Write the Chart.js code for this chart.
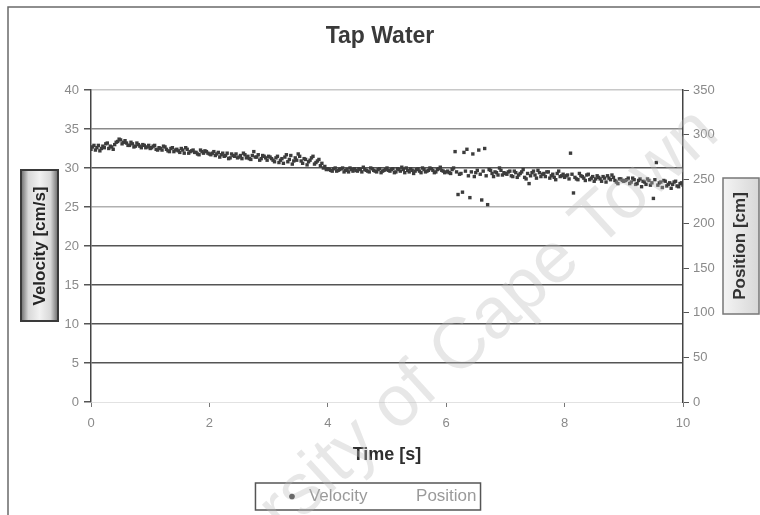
<!DOCTYPE html>
<html>
<head>
<meta charset="utf-8">
<script src="https://cdn.jsdelivr.net/npm/chart.js@4/dist/chart.umd.min.js"></script>
<style>
  html, body { margin: 0; padding: 0; background: #fff; }
  #wrap { width: 760px; height: 515px; }
</style>
</head>
<body>
<div id="wrap"><canvas id="tapChart" width="760" height="515"></canvas></div>
<script>
// sample times [s], first pass (every 0.05 s)
const timeA = [
  0.00, 0.05, 0.10, 0.15, 0.20, 0.25, 0.30, 0.35, 0.40, 0.45, 0.50, 0.55, 0.60, 0.65, 0.70, 0.75, 0.80, 0.85, 0.90, 0.95,
  1.00, 1.05, 1.10, 1.15, 1.20, 1.25, 1.30, 1.35, 1.40, 1.45, 1.50, 1.55, 1.60, 1.65, 1.70, 1.75, 1.80, 1.85, 1.90, 1.95,
  2.00, 2.05, 2.10, 2.15, 2.20, 2.25, 2.30, 2.35, 2.40, 2.45, 2.50, 2.55, 2.60, 2.65, 2.70, 2.75, 2.80, 2.85, 2.90, 2.95,
  3.00, 3.05, 3.10, 3.15, 3.20, 3.25, 3.30, 3.35, 3.40, 3.45, 3.50, 3.55, 3.60, 3.65, 3.70, 3.75, 3.80, 3.85, 3.90, 3.95,
  4.00, 4.05, 4.10, 4.15, 4.20, 4.25, 4.30, 4.35, 4.40, 4.45, 4.50, 4.55, 4.60, 4.65, 4.70, 4.75, 4.80, 4.85, 4.90, 4.95,
  5.00, 5.05, 5.10, 5.15, 5.20, 5.25, 5.30, 5.35, 5.40, 5.45, 5.50, 5.55, 5.60, 5.65, 5.70, 5.75, 5.80, 5.85, 5.90, 5.95,
  6.00, 6.05, 6.10, 6.15, 6.20, 6.25, 6.30, 6.35, 6.40, 6.45, 6.50, 6.55, 6.60, 6.65, 6.70, 6.75, 6.80, 6.85, 6.90, 6.95,
  7.00, 7.05, 7.10, 7.15, 7.20, 7.25, 7.30, 7.35, 7.40, 7.45, 7.50, 7.55, 7.60, 7.65, 7.70, 7.75, 7.80, 7.85, 7.90, 7.95,
  8.00, 8.05, 8.10, 8.15, 8.20, 8.25, 8.30, 8.35, 8.40, 8.45, 8.50, 8.55, 8.60, 8.65, 8.70, 8.75, 8.80, 8.85, 8.90, 8.95,
  9.00, 9.05, 9.10, 9.15, 9.20, 9.25, 9.30, 9.35, 9.40, 9.45, 9.50, 9.55, 9.60, 9.65, 9.70, 9.75, 9.80, 9.85, 9.90, 9.95,
  10.00
];

// velocity [cm/s] at timeA
const velocityA = [
  32.4, 32.9, 32.6, 32.2, 32.8, 33.1, 32.5, 32.7, 33.0, 33.4, 33.6, 33.3, 33.2, 32.9, 33.1, 32.8, 33.0, 32.6, 32.9, 32.7,
  32.5, 32.8, 32.4, 32.6, 32.3, 32.7, 32.2, 32.5, 32.1, 32.4, 32.0, 32.3, 32.6, 31.9, 32.2, 32.0, 31.8, 32.3, 31.9, 32.1,
  31.8, 31.9, 31.6, 32.0, 31.7, 31.5, 31.9, 31.3, 31.6, 31.8, 31.4, 31.2, 31.7, 31.5, 31.1, 32.1, 31.4, 31.0, 31.6, 31.3,
  31.5, 31.2, 30.8, 31.5, 31.0, 30.6, 31.7, 31.1, 30.5, 31.3, 31.8, 30.9, 31.2, 30.4, 31.0, 31.5, 30.7, 31.1, 30.6, 30.2,
  29.9, 29.7, 29.9, 29.6, 29.8, 30.0, 29.7, 29.5, 29.8, 29.9, 29.6, 29.8, 30.1, 29.7, 29.5, 29.9, 29.6, 29.8, 29.4, 29.7,
  30.0, 29.6, 29.9, 29.5, 29.8, 30.1, 29.4, 29.7, 29.9, 29.3, 29.8, 29.6, 30.0, 29.5, 29.7, 29.9, 29.4, 29.8, 30.1, 29.6,
  29.5, 29.4, 29.8, 32.1, 26.6, 29.3, 32.0, 32.4, 26.2, 31.8, 29.4, 32.3, 25.9, 32.5, 25.3, 29.7, 28.9, 29.4, 30.0, 29.1,
  29.3, 29.5, 29.0, 29.6, 28.8, 29.3, 29.8, 28.6, 28.0, 29.4, 29.1, 29.7, 28.9, 29.3, 29.5, 28.7, 29.2, 28.5, 29.6, 29.0,
  28.8, 29.1, 31.9, 26.8, 28.6, 29.3, 28.9, 28.4, 29.2, 28.7, 28.3, 29.0, 28.6, 28.9, 28.2, 28.7, 29.1, 28.4, 28.0, 28.6,
  28.3, 28.5, 28.0, 28.7, 27.9, 28.4, 27.6, 28.2, 28.6, 27.8, 26.1, 30.7, 28.1, 27.5, 28.3, 27.9, 27.4, 28.2, 27.7, 28.0,
  27.8
];

// second pass, samples in between (every 0.05 s, offset 0.025 s)
const timeB = [
  0.025, 0.075, 0.125, 0.175, 0.225, 0.275, 0.325, 0.375, 0.425, 0.475, 0.525, 0.575, 0.625, 0.675, 0.725, 0.775, 0.825, 0.875, 0.925, 0.975,
  1.025, 1.075, 1.125, 1.175, 1.225, 1.275, 1.325, 1.375, 1.425, 1.475, 1.525, 1.575, 1.625, 1.675, 1.725, 1.775, 1.825, 1.875, 1.925, 1.975,
  2.025, 2.075, 2.125, 2.175, 2.225, 2.275, 2.325, 2.375, 2.425, 2.475, 2.525, 2.575, 2.625, 2.675, 2.725, 2.775, 2.825, 2.875, 2.925, 2.975,
  3.025, 3.075, 3.125, 3.175, 3.225, 3.275, 3.325, 3.375, 3.425, 3.475, 3.525, 3.575, 3.625, 3.675, 3.725, 3.775, 3.825, 3.875, 3.925, 3.975,
  4.025, 4.075, 4.125, 4.175, 4.225, 4.275, 4.325, 4.375, 4.425, 4.475, 4.525, 4.575, 4.625, 4.675, 4.725, 4.775, 4.825, 4.875, 4.925, 4.975,
  5.025, 5.075, 5.125, 5.175, 5.225, 5.275, 5.325, 5.375, 5.425, 5.475, 5.525, 5.575, 5.625, 5.675, 5.725, 5.775, 5.825, 5.875, 5.925, 5.975,
  6.025, 6.075, 6.125, 6.175, 6.225, 6.275, 6.325, 6.375, 6.425, 6.475, 6.525, 6.575, 6.625, 6.675, 6.725, 6.775, 6.825, 6.875, 6.925, 6.975,
  7.025, 7.075, 7.125, 7.175, 7.225, 7.275, 7.325, 7.375, 7.425, 7.475, 7.525, 7.575, 7.625, 7.675, 7.725, 7.775, 7.825, 7.875, 7.925, 7.975,
  8.025, 8.075, 8.125, 8.175, 8.225, 8.275, 8.325, 8.375, 8.425, 8.475, 8.525, 8.575, 8.625, 8.675, 8.725, 8.775, 8.825, 8.875, 8.925, 8.975,
  9.025, 9.075, 9.125, 9.175, 9.225, 9.275, 9.325, 9.375, 9.425, 9.475, 9.525, 9.575, 9.625, 9.675, 9.725, 9.775, 9.825, 9.875, 9.925, 9.975
];

const velocityB = [
  32.7, 32.3, 32.9, 32.5, 32.6, 33.2, 32.8, 32.4, 33.3, 33.7, 33.1, 33.5, 32.9, 33.3, 32.7, 33.2, 32.8, 33.0, 32.6, 32.9,
  32.6, 32.9, 32.3, 32.5, 32.8, 32.4, 32.1, 32.6, 32.3, 32.2, 32.5, 31.9, 32.4, 32.1, 32.3, 32.0, 31.7, 32.1, 32.2, 31.9,
  31.7, 32.1, 31.8, 31.4, 31.9, 31.6, 31.2, 31.8, 31.5, 31.3, 31.6, 31.9, 31.3, 31.2, 31.6, 31.4, 31.7, 31.2, 31.5, 31.0,
  31.4, 31.0, 31.3, 30.7, 31.2, 31.4, 30.8, 31.6, 30.9, 31.0, 31.5, 30.6, 31.1, 30.8, 31.3, 30.5, 30.9, 30.3, 30.0, 29.8,
  29.8, 29.6, 30.0, 29.7, 29.9, 29.5, 29.8, 30.0, 29.6, 29.7, 29.9, 29.5, 29.8, 29.6, 30.0, 29.7, 29.5, 29.9, 29.6, 29.8,
  29.7, 29.8, 29.4, 29.9, 29.6, 29.8, 30.0, 29.5, 29.7, 29.6, 29.9, 29.4, 29.8, 29.6, 30.0, 29.7, 29.5, 29.9, 29.7, 29.4,
  29.6, 29.3, 30.0, 29.5, 29.2, 26.9, 29.6, 29.0, 29.5, 28.9, 29.7, 29.2, 29.6, 29.0, 29.8, 29.3, 29.5, 29.1, 29.7, 29.4,
  29.2, 29.6, 28.9, 29.4, 29.1, 29.5, 28.8, 29.3, 29.0, 29.6, 28.7, 29.4, 29.2, 28.9, 29.5, 29.0, 28.8, 29.3, 28.9, 29.2,
  29.0, 28.6, 29.2, 28.8, 28.5, 29.0, 28.7, 29.1, 28.5, 28.9, 28.6, 28.8, 28.3, 28.7, 29.0, 28.5, 28.8, 28.2, 28.6, 28.4,
  28.4, 28.7, 28.2, 28.5, 28.0, 28.6, 28.3, 27.9, 28.4, 28.1, 28.5, 27.8, 28.2, 28.4, 27.7, 28.1, 27.9, 28.3, 27.6, 28.1
];

// position [cm] - no marks visible in the scan
const position = [];

const xTicks = [0, 2, 4, 6, 8, 10];
const velTicks = [0, 5, 10, 15, 20, 25, 30, 35, 40];
const posTicks = [0, 50, 100, 150, 200, 250, 300, 350];

const labelGrey = '#8a8a8a';
const font = 'Liberation Sans, Arial, sans-serif';

const velocityPoints = timeA.map((t, i) => ({ x: t, y: velocityA[i] }))
  .concat(timeB.map((t, i) => ({ x: t, y: velocityB[i] })));

// frame, boxed axis titles, legend box and watermark
const decorations = {
  id: 'decorations',
  beforeDraw(chart) {
    const ctx = chart.ctx;
    ctx.save();
    ctx.strokeStyle = '#6a6a6a';
    ctx.lineWidth = 1.5;
    ctx.strokeRect(8, 7, 780, 540);
    ctx.restore();
  },
  afterDraw(chart) {
    const ctx = chart.ctx;
    ctx.save();

    // left title box (grey bevel)
    let g = ctx.createLinearGradient(21, 0, 58, 0);
    g.addColorStop(0, '#6b6b6b');
    g.addColorStop(0.2, '#d8d8d8');
    g.addColorStop(0.5, '#f2f2f2');
    g.addColorStop(0.8, '#d8d8d8');
    g.addColorStop(1, '#6b6b6b');
    ctx.fillStyle = g;
    ctx.fillRect(21, 170, 37, 151);
    ctx.strokeStyle = '#3a3a3a';
    ctx.lineWidth = 2;
    ctx.strokeRect(21, 170, 37, 151);
    ctx.translate(40, 246);
    ctx.rotate(-Math.PI / 2);
    ctx.fillStyle = '#262626';
    ctx.font = 'bold 17px ' + font;
    ctx.textAlign = 'center';
    ctx.textBaseline = 'middle';
    ctx.fillText('Velocity [cm/s]', 0, 0);
    ctx.restore();

    // right title box
    ctx.save();
    g = ctx.createLinearGradient(723, 0, 758, 0);
    g.addColorStop(0, '#f4f4f4');
    g.addColorStop(1, '#d8d8d8');
    ctx.fillStyle = g;
    ctx.fillRect(723, 178, 36, 136);
    ctx.strokeStyle = '#777';
    ctx.lineWidth = 1.5;
    ctx.strokeRect(723, 178, 36, 136);
    ctx.translate(740, 246);
    ctx.rotate(-Math.PI / 2);
    ctx.fillStyle = '#333';
    ctx.font = 'bold 17px ' + font;
    ctx.textAlign = 'center';
    ctx.textBaseline = 'middle';
    ctx.fillText('Position [cm]', 0, 0);
    ctx.restore();

    // legend frame
    const boxes = chart.legend.legendHitBoxes;
    if (boxes && boxes.length) {
      const left = Math.min(...boxes.map(b => b.left)) - 28;
      const right = Math.max(...boxes.map(b => b.left + b.width)) + 4;
      const top = Math.min(...boxes.map(b => b.top)) - 5;
      const bottom = Math.max(...boxes.map(b => b.top + b.height)) + 5;
      ctx.save();
      ctx.strokeStyle = '#555';
      ctx.lineWidth = 1.5;
      ctx.strokeRect(left, top, right - left, bottom - top);
      ctx.restore();
    }

    // watermark
    ctx.save();
    ctx.translate(708, 122);
    ctx.rotate(-0.74);
    ctx.fillStyle = 'rgba(185, 185, 185, 0.35)';
    ctx.font = '72px ' + font;
    ctx.textAlign = 'right';
    ctx.textBaseline = 'middle';
    ctx.fillText('University of Cape Town', 0, 0);
    ctx.restore();
  }
};

new Chart(document.getElementById('tapChart'), {
  type: 'scatter',
  data: {
    datasets: [
      {
        label: 'Velocity',
        data: velocityPoints,
        yAxisID: 'y',
        pointRadius: 2.4,
        pointHoverRadius: 2.4,
        pointStyle: 'rect',
        backgroundColor: '#3c3c3c',
        borderColor: '#3c3c3c',
        borderWidth: 0
      },
      {
        label: 'Position',
        data: position.map((p, i) => ({ x: timeA[i], y: p })),
        yAxisID: 'y1',
        pointRadius: 0,
        pointStyle: 'line',
        backgroundColor: 'rgba(0,0,0,0)',
        borderColor: 'rgba(0,0,0,0)'
      }
    ]
  },
  options: {
    responsive: false,
    animation: false,
    devicePixelRatio: 1,
    layout: { padding: 0 },
    plugins: {
      title: {
        display: true,
        text: 'Tap Water',
        color: '#3a3a3a',
        font: { family: font, size: 23, weight: 'bold' },
        padding: { top: 23, bottom: 39.4 }
      },
      legend: {
        position: 'bottom',
        labels: {
          usePointStyle: true,
          boxWidth: 17,
          boxHeight: 4,
          padding: 6,
          color: '#9a9a9a',
          font: { family: font, size: 17 },
          generateLabels: chart => {
            const items = Chart.defaults.plugins.legend.labels.generateLabels(chart);
            items.forEach(it => {
              it.pointStyle = it.text === 'Velocity' ? 'circle' : 'line';
              if (it.text === 'Position') it.text = '\u2002\u2002' + it.text;
            });
            return items;
          }
        }
      },
      tooltip: { enabled: false }
    },
    scales: {
      x: {
        type: 'linear',
        min: 0,
        max: 10,
        afterBuildTicks: scale => { scale.ticks = xTicks.map(v => ({ value: v })); },
        afterFit: scale => { scale.height = 80; },
        ticks: { color: labelGrey, padding: 9, font: { family: font, size: 13 } },
        grid: { drawOnChartArea: false, drawTicks: true, tickLength: 5, tickColor: '#777' },
        border: { display: true, color: '#e2e2e2', width: 1 },
        title: {
          display: true,
          text: 'Time [s]',
          color: '#2e2e2e',
          font: { family: font, size: 18, weight: 'bold' },
          padding: { top: 0, bottom: 16 }
        }
      },
      y: {
        position: 'left',
        min: 0,
        max: 40,
        afterBuildTicks: scale => { scale.ticks = velTicks.map(v => ({ value: v })); },
        afterFit: scale => { scale.width = 91; },
        ticks: { color: labelGrey, padding: 5, font: { family: font, size: 13 } },
        grid: {
          color: c => {
            const v = c.tick ? c.tick.value : 0;
            if (v === 0) return 'rgba(0,0,0,0)';
            if (v === 40) return '#c8c8c8';
            if (v === 25) return '#b0b0b0';
            if (v === 35) return '#8a8a8a';
            return '#555';
          },
          lineWidth: 1.5,
          tickLength: 7,
          tickColor: '#555'
        },
        border: { display: true, color: '#444', width: 1.5 }
      },
      y1: {
        position: 'right',
        min: 0,
        max: 350,
        afterBuildTicks: scale => { scale.ticks = posTicks.map(v => ({ value: v })); },
        afterFit: scale => { scale.width = 77; },
        ticks: { color: labelGrey, padding: 4, font: { family: font, size: 13 } },
        grid: { drawOnChartArea: false, tickLength: 6, tickColor: '#555' },
        border: { display: true, color: '#444', width: 1.5 }
      }
    }
  },
  plugins: [decorations]
});
</script>
</body>
</html>
